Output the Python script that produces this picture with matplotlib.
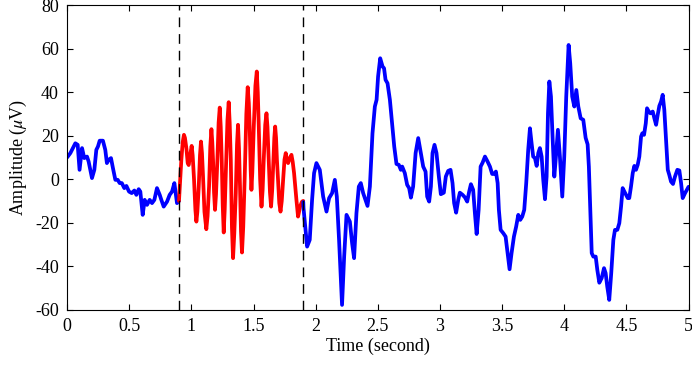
import numpy as np
import matplotlib
matplotlib.use("Agg")
import matplotlib.pyplot as plt

plt.rcParams['font.family'] = ['Liberation Serif', 'DejaVu Serif']
plt.rcParams['mathtext.fontset'] = 'stix'
plt.rcParams['axes.unicode_minus'] = False

# signal: (time s, amplitude uV)
blue_before = [
    (0.0, 10), (0.026, 12), (0.066, 16.5), (0.085, 15.8), (0.10, 4.3), (0.12, 14.3),
    (0.138, 9.7), (0.16, 10.4), (0.173, 8.1), (0.20, 0.5), (0.219, 4.3), (0.235, 13.5),
    (0.248, 15), (0.262, 17.7), (0.288, 17.7), (0.307, 13.5), (0.32, 7.4), (0.334, 8.9),
    (0.353, 9.7), (0.369, 5), (0.388, -0.3), (0.407, -0.3), (0.423, -1.8), (0.44, -1.8),
    (0.46, -4.1), (0.477, -3.1), (0.498, -5.7), (0.52, -6.4), (0.541, -5.2), (0.557, -7.2),
    (0.576, -4.6), (0.589, -5.7), (0.608, -16.4), (0.624, -9.5), (0.643, -11.8), (0.664, -9.5),
    (0.683, -11), (0.702, -9.5), (0.723, -4.1), (0.745, -7.2), (0.758, -9.5), (0.777, -12.6),
    (0.804, -10.3), (0.825, -7.2), (0.844, -5.7), (0.863, -1.8), (0.884, -11), (0.90, -10),
]

red_segment = [
    (0.90, -10), (0.91, 0), (0.919, 8.9), (0.93, 17), (0.94, 20.4), (0.948, 19), (0.96, 14),
    (0.97, 7.5), (0.978, 6.5), (0.99, 11), (1.002, 15.3), (1.01, 11), (1.021, 0), (1.032, -14),
    (1.04, -19.5), (1.048, -15), (1.059, -3.4), (1.069, 11), (1.077, 17.3), (1.085, 12),
    (1.093, 2), (1.105, -15), (1.12, -23), (1.13, -17), (1.142, -3.4), (1.152, 15), (1.161, 23),
    (1.168, 17), (1.174, 8.9), (1.182, -6), (1.19, -14.1), (1.198, -7), (1.209, 8.9),
    (1.219, 26), (1.228, 32.9), (1.236, 24), (1.244, 8.9), (1.252, -12), (1.26, -24.5),
    (1.268, -14), (1.276, 1.2), (1.29, 27), (1.30, 35.4), (1.308, 26), (1.317, 8.9),
    (1.326, -22), (1.335, -36.3), (1.345, -25), (1.357, -6.4), (1.367, 16), (1.375, 25),
    (1.383, 14), (1.391, -3.4), (1.399, -24), (1.407, -33.7), (1.417, -22), (1.429, 1.2),
    (1.442, 30), (1.453, 42.3), (1.462, 35), (1.469, 24.2), (1.477, 4), (1.483, -4.9),
    (1.49, 3), (1.502, 24.2), (1.515, 43), (1.526, 49.5), (1.534, 40), (1.542, 24.2),
    (1.553, 0), (1.564, -12.6), (1.573, -5), (1.582, 8.9), (1.594, 25), (1.604, 30.3),
    (1.612, 24), (1.622, 8.9), (1.632, -6), (1.641, -12.6), (1.65, -5), (1.66, 8.9),
    (1.667, 19), (1.674, 24.2), (1.681, 19), (1.688, 9), (1.697, -0.3), (1.707, -11),
    (1.717, -14.9), (1.727, -10), (1.738, -0.3), (1.749, 9), (1.759, 12), (1.768, 9),
    (1.778, 7.4), (1.79, 9.5), (1.805, 11.2), (1.815, 8), (1.826, 2.8), (1.845, -9.5),
    (1.858, -17.2), (1.866, -15), (1.874, -12.6), (1.89, -10.3), (1.90, -10),
]

blue_after = [
    (1.90, -10.5), (1.902, -13.3), (1.931, -31), (1.952, -27.9), (1.971, -9.5), (1.987, 2.8),
    (2.006, 7.4), (2.033, 4.3), (2.06, -8), (2.087, -14.9), (2.108, -8.7), (2.132, -6.4),
    (2.154, -0.3), (2.17, -8), (2.188, -27.9), (2.212, -57.8), (2.229, -35.6), (2.248, -16.4),
    (2.275, -19.5), (2.293, -29.4), (2.309, -36.3), (2.328, -15.6), (2.347, -3.4), (2.363, -1.8),
    (2.382, -6.4), (2.417, -12.3), (2.436, -3.4), (2.457, 21.1), (2.476, 33.4), (2.49, 36.5),
    (2.502, 47.2), (2.519, 55.6), (2.538, 51.8), (2.55, 51), (2.562, 45.7), (2.578, 44.1),
    (2.597, 36.5), (2.615, 25.7), (2.632, 15), (2.65, 7), (2.669, 6.6), (2.685, 4.3),
    (2.696, 5.8), (2.717, 2.8), (2.736, -2.6), (2.752, -4.1), (2.766, -8.5), (2.784, -3.4),
    (2.804, 12), (2.825, 18.9), (2.846, 12), (2.865, 5.8), (2.884, 3.5), (2.897, -8),
    (2.913, -10.3), (2.927, -3.4), (2.94, 12), (2.956, 15.8), (2.972, 12), (2.991, 1.2),
    (3.007, -6.9), (3.031, -6.2), (3.047, 1.2), (3.066, 3.8), (3.085, 4.3), (3.101, -1.8),
    (3.114, -11), (3.13, -15.4), (3.147, -9.5), (3.16, -6.2), (3.182, -7.2), (3.2, -8.3),
    (3.219, -10.3), (3.235, -5.7), (3.249, -2.3), (3.267, -4.9), (3.281, -15.6), (3.295, -25.2),
    (3.311, -14.1), (3.327, 5.8), (3.343, 7.6), (3.362, 10.4), (3.383, 8.1), (3.402, 5.8),
    (3.42, 2.4), (3.436, 2.4), (3.45, 3.5), (3.464, -1.8), (3.474, -14.1), (3.488, -23.3),
    (3.509, -24.8), (3.528, -26.4), (3.544, -34), (3.56, -41.4), (3.576, -34), (3.595, -26.4),
    (3.613, -21.8), (3.63, -16.4), (3.646, -18.7), (3.662, -17.2), (3.678, -14.1), (3.694, -1.8),
    (3.71, 13.5), (3.724, 23.4), (3.737, 16.6), (3.75, 10.4), (3.764, 9.7), (3.778, 6.1),
    (3.791, 12), (3.804, 14.3), (3.818, 10.4), (3.831, -0.3), (3.845, -9.2), (3.858, 1.2),
    (3.869, 30.3), (3.88, 44.9), (3.893, 38), (3.907, 18.1), (3.92, 1.2), (3.933, 10.4),
    (3.949, 22.7), (3.965, 10.4), (3.984, -8), (4.0, 10.4), (4.016, 38), (4.035, 61.7),
    (4.048, 53.3), (4.064, 38), (4.081, 33.4), (4.097, 41), (4.113, 33.4), (4.132, 28),
    (4.153, 27.3), (4.172, 19), (4.188, 16), (4.198, 5.8), (4.209, -12.6), (4.221, -34),
    (4.234, -35.6), (4.253, -35.6), (4.266, -41.7), (4.282, -47.6), (4.301, -45.5), (4.32, -40.9),
    (4.333, -43.2), (4.346, -49.4), (4.362, -55.5), (4.378, -43.2), (4.395, -27.9), (4.408, -23.3),
    (4.427, -23.3), (4.443, -20.2), (4.457, -12.6), (4.47, -4.1), (4.49, -6.4), (4.511, -8.7),
    (4.523, -8.7), (4.537, -3.4), (4.551, 2.8), (4.564, 6.1), (4.577, 4.3), (4.591, 6.6),
    (4.604, 10.4), (4.618, 19.6), (4.628, 21.1), (4.642, 20.4), (4.656, 25.7), (4.666, 32.6),
    (4.68, 31.1), (4.693, 30.3), (4.712, 31.1), (4.725, 28), (4.739, 25), (4.752, 29.6),
    (4.765, 33.7), (4.779, 35.7), (4.792, 38.8), (4.805, 31.9), (4.819, 18.1), (4.833, 4.3),
    (4.845, 2), (4.859, -1.1), (4.875, -2.2), (4.891, 1.2), (4.91, 4.3), (4.926, 4),
    (4.94, -1.8), (4.953, -8.7), (4.972, -6.4), (4.99, -4.6), (5.0, -3.5),
]

marker_times = [0.9, 1.9]
x_ticks = [0, 0.5, 1, 1.5, 2, 2.5, 3, 3.5, 4, 4.5, 5]
x_labels = ['0', '0.5', '1', '1.5', '2', '2.5', '3', '3.5', '4', '4.5', '5']
y_ticks = [-60, -40, -20, 0, 20, 40, 60, 80]

fig = plt.figure(figsize=(6.92, 3.70), dpi=100)
ax = fig.add_axes([0.097, 0.163, 0.898, 0.823])

for seg, col in [(blue_before, 'blue'), (red_segment, 'red'), (blue_after, 'blue')]:
    t, y = np.array(seg).T
    ax.plot(t, y, color=col, lw=2.7, solid_joinstyle='round', solid_capstyle='round')

for mt in marker_times:
    ax.axvline(mt, color='black', lw=1.0, ls=(0, (7, 5)))

ax.set_xlim(0, 5)
ax.set_ylim(-60, 80)
ax.set_xticks(x_ticks)
ax.set_xticklabels(x_labels)
ax.set_yticks(y_ticks)
ax.tick_params(direction='in', top=True, right=True, length=4, labelsize=13, pad=6)
for s in ax.spines.values():
    s.set_linewidth(0.8)

ax.set_xlabel('Time (second)', fontsize=13, labelpad=2)
ax.set_ylabel(r'Amplitude ($\mu$V)', fontsize=13, labelpad=4)

fig.savefig('out.png', dpi=100)
